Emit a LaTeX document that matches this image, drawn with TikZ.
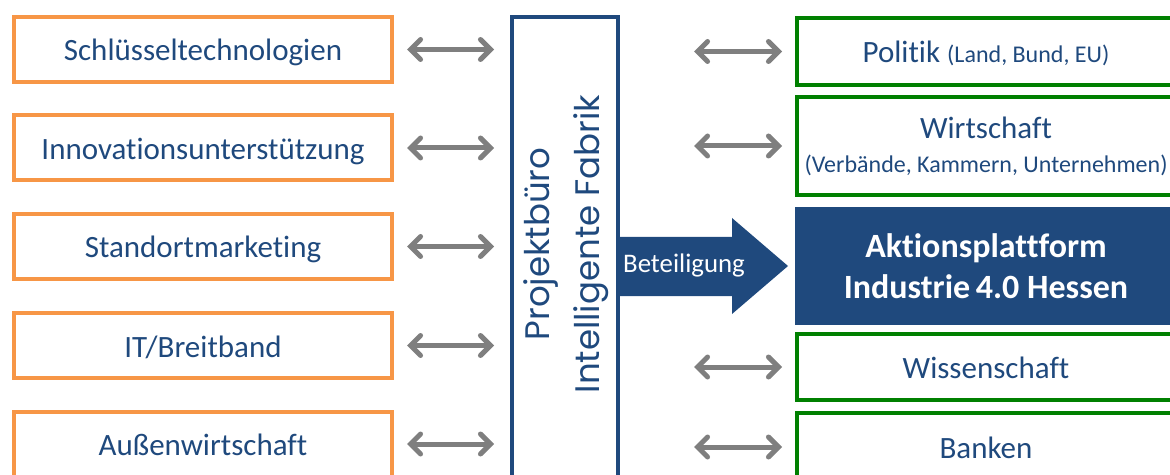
\documentclass[tikz,border=0pt]{standalone}
\usepackage{fontspec}
\setmainfont{Carlito}[Ligatures=NoCommon]
\newfontfamily\geofont{Poppins}
\usetikzlibrary{arrows.meta}
\definecolor{hblue}{HTML}{1F497D}
\definecolor{horange}{HTML}{F79646}
\definecolor{hgreen}{HTML}{008000}
\definecolor{hgray}{HTML}{7F7F7F}
\tikzstyle{field} = [rectangle, draw=horange, line width=2pt, minimum width=189pt, minimum height=32.5pt, text centered, text=hblue, text height=14pt, text depth=2.5pt, font=\fontsize{15.5}{18}\selectfont]
\tikzstyle{partner} = [rectangle, draw=hgreen, line width=2pt, minimum width=189pt, text centered, align=center, text=hblue, font=\fontsize{15.5}{18}\selectfont]
\tikzstyle{oneline} = [text height=14pt, text depth=2.5pt]
\tikzstyle{platform} = [rectangle, fill=hblue, minimum width=191pt, minimum height=59pt, text centered, align=center, text=white, font=\bfseries\fontsize{17}{20.5}\selectfont]
\tikzstyle{projekt} = [rectangle, draw=hblue, line width=2pt, minimum width=53pt, minimum height=240pt]
\tikzstyle{biarrow} = [line width=2.5pt, draw=hgray, {Straight Barb[length=5pt,width=10pt,line cap=round]}-{Straight Barb[length=5pt,width=10pt,line cap=round]}]

\begin{document}
\begin{tikzpicture}[x=0.5pt, y=-0.5pt]
            \useasboundingbox (0,0) rectangle (1170,475);
            \clip (0,0) rectangle (1170,475);
            % left: fields
            \node [field] at (203,49.5) (f1) {Schlüsseltechnologien};
            \node [field] at (203,148) (f2) {Innovationsunterstützung};
            \node [field] at (203,246.5) (f3) {Standortmarketing};
            \node [field] at (203,345.5) (f4) {IT/Breitband};
            \node [field] at (203,444) (f5) {Außenwirtschaft};
            % middle
            \node [projekt] at (565,257) (pb) {};
            \node [rotate=90, text=hblue, align=center, font=\geofont\fontsize{17}{25}\selectfont] at (566,244) (pbtext) {Projektbüro\\Intelligente Fabrik};
            % right: partners
            \node [partner, oneline, minimum height=33.5pt] at (986,51.5) (p1) {Politik {\fontsize{12}{14}\selectfont(Land, Bund, EU)}};
            \node [partner, minimum height=49pt] at (986,146) (p2) {Wirtschaft\\[-1pt]{\fontsize{12}{14}\selectfont(Verbände, Kammern, Unternehmen)}};
            \node [platform] at (986,266) (ap) {Aktionsplattform\\Industrie\,4.0 Hessen};
            \node [partner, oneline, minimum height=33pt] at (986,367) (p3) {Wissenschaft};
            \node [partner, oneline, minimum height=34pt] at (986,447) (p4) {Banken};
            % block arrow
            \fill [hblue] (620,237) -- (732,237) -- (732,218) -- (788,266) -- (732,314) -- (732,296) -- (620,296) -- cycle;
            \node [text=white, font=\fontsize{13.4}{16}\selectfont] at (684,265) (bet) {Beteiligung};
            % arrows
            \draw [biarrow, shorten <=6.5pt, shorten >=8pt] (f1.east) -- (f1.east -| pb.west);
            \draw [biarrow, shorten <=6.5pt, shorten >=8pt] (f2.east) -- (f2.east -| pb.west);
            \draw [biarrow, shorten <=6.5pt, shorten >=8pt] (f3.east) -- (f3.east -| pb.west);
            \draw [biarrow, shorten <=6.5pt, shorten >=8pt] (f4.east) -- (f4.east -| pb.west);
            \draw [biarrow, shorten <=6.5pt, shorten >=8pt] (f5.east) -- (f5.east -| pb.west);
            \draw [biarrow, shorten <=37pt, shorten >=6.5pt] (p1.west -| pb.east) -- (p1.west);
            \draw [biarrow, shorten <=37pt, shorten >=6.5pt] (p2.west -| pb.east) -- (p2.west);
            \draw [biarrow, shorten <=37pt, shorten >=6.5pt] (p3.west -| pb.east) -- (p3.west);
            \draw [biarrow, shorten <=37pt, shorten >=6.5pt] (p4.west -| pb.east) -- (p4.west);
\end{tikzpicture}
\end{document}
